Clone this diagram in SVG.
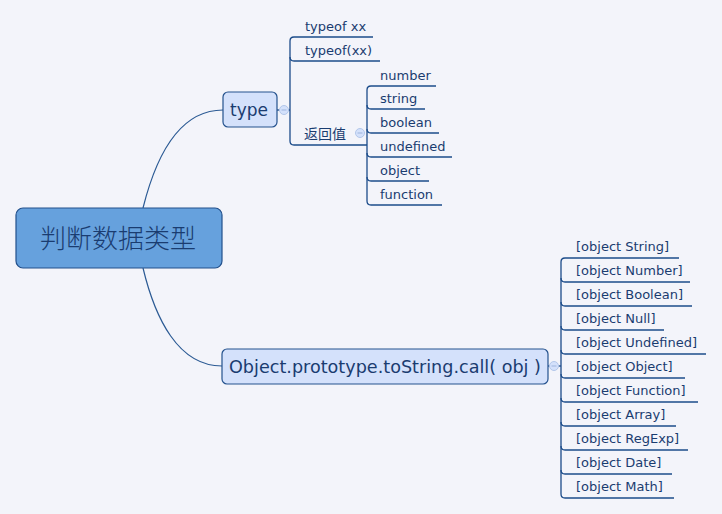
<svg xmlns="http://www.w3.org/2000/svg" width="722" height="514" viewBox="0 0 722 514">
<style>
.bg{fill:#F3F4FA}
.link{fill:none;stroke:#2B5A94;stroke-width:1.2}
.br{fill:none;stroke:#1C4C8A;stroke-width:1.3}
.t{font-family:"DejaVu Sans",Verdana,sans-serif;font-size:13px;fill:#1A3C70}
.cjk{font-family:"Noto Sans CJK SC",sans-serif;font-size:14px;fill:#1A3C70}
.nt{font-family:"DejaVu Sans",Verdana,sans-serif;font-size:17px;fill:#1A3C70}
.sub{fill:#D4E1FB;stroke:#24528E;stroke-width:1.2}
.col{fill:#D4E1FB;stroke:#B3C7EA;stroke-width:1}
.colm{stroke:#9DB4DD;stroke-width:1}
</style>
<rect class="bg" x="0" y="0" width="722" height="514"/>
<g id="connectors">
<path class="link" d="M143,208 C155,160 178,110 223,110"/>
<path class="link" d="M143,268 C155,318 178,366 222,366"/>
<path class="br" d="M277,110 H290"/>
<path class="br" d="M548,366 H561"/>
</g>
<g id="root">
<rect x="16" y="208" width="206" height="60" rx="7" fill="#66A1DD" stroke="#22508C" stroke-width="1.2"/>
<text x="118" y="248" text-anchor="middle" style="font-family:'Noto Sans CJK SC',sans-serif;font-size:26px;font-weight:300;fill:#1A3C70">判断数据类型</text>
</g>
<g id="type">
<rect class="sub" x="223" y="92" width="54" height="35" rx="5"/>
<text class="nt" x="230" y="116">type</text>
<circle class="col" cx="284" cy="110" r="4.5"/>
<path class="colm" d="M281.5,110 H286.5"/>
</g>
<g id="type-children">
<path class="br" d="M290,141 V41 Q290,37 294,37 H373"/>
<path class="br" d="M290,57 Q290,61 294,61 H380"/>
<path class="br" d="M290,141 Q290,145 294,145 H367"/>
<text class="t" x="305" y="31">typeof xx</text>
<text class="t" x="305" y="55">typeof(xx)</text>
<text class="cjk" x="304" y="139">返回值</text>
<circle class="col" cx="360" cy="133" r="4.5"/>
<path class="colm" d="M357.5,133 H362.5"/>
</g>
<g id="return-values">
<path class="br" d="M367,201 V90 Q367,86 371,86 H436"/>
<path class="br" d="M367,105 Q367,109 371,109 H425"/>
<path class="br" d="M367,129 Q367,133 371,133 H439"/>
<path class="br" d="M367,153 Q367,157 371,157 H452"/>
<path class="br" d="M367,177 Q367,181 371,181 H429"/>
<path class="br" d="M367,201 Q367,205 371,205 H442"/>
<text class="t" x="380" y="80">number</text>
<text class="t" x="380" y="103">string</text>
<text class="t" x="380" y="127">boolean</text>
<text class="t" x="380" y="151">undefined</text>
<text class="t" x="380" y="175">object</text>
<text class="t" x="380" y="199">function</text>
</g>
<g id="tostring">
<rect class="sub" x="222" y="349" width="326" height="35" rx="5"/>
<text class="nt" x="229" y="373" style="font-size:17.6px">Object.prototype.toString.call( obj )</text>
<circle class="col" cx="554" cy="366" r="4.5"/>
<path class="colm" d="M551.5,366 H556.5"/>
</g>
<g id="tostring-children">
<path class="br" d="M561,494 V262 Q561,258 565,258 H679"/>
<path class="br" d="M561,278 Q561,282 565,282 H690"/>
<path class="br" d="M561,302 Q561,306 565,306 H692"/>
<path class="br" d="M561,326 Q561,330 565,330 H664"/>
<path class="br" d="M561,350 Q561,354 565,354 H706"/>
<path class="br" d="M561,374 Q561,378 565,378 H685"/>
<path class="br" d="M561,398 Q561,402 565,402 H698"/>
<path class="br" d="M561,422 Q561,426 565,426 H676"/>
<path class="br" d="M561,446 Q561,450 565,450 H688"/>
<path class="br" d="M561,470 Q561,474 565,474 H672"/>
<path class="br" d="M561,494 Q561,498 565,498 H674"/>
<text class="t" x="576" y="251">[object String]</text>
<text class="t" x="576" y="275">[object Number]</text>
<text class="t" x="576" y="299">[object Boolean]</text>
<text class="t" x="576" y="323">[object Null]</text>
<text class="t" x="576" y="347">[object Undefined]</text>
<text class="t" x="576" y="371">[object Object]</text>
<text class="t" x="576" y="395">[object Function]</text>
<text class="t" x="576" y="419">[object Array]</text>
<text class="t" x="576" y="443">[object RegExp]</text>
<text class="t" x="576" y="467">[object Date]</text>
<text class="t" x="576" y="491">[object Math]</text>
</g>
</svg>
